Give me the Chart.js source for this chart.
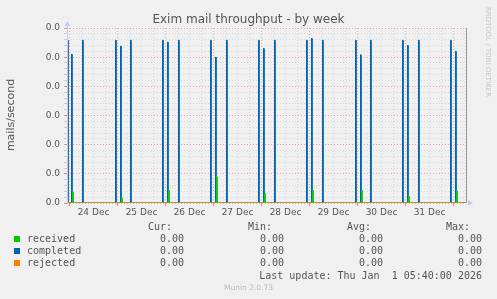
<!DOCTYPE html>
<html lang="en">
<head>
    <meta charset="UTF-8">
    <title>Exim mail throughput - by week</title>
    <script src="https://cdn.jsdelivr.net/npm/chart.js"></script>
    <style>
        body {
            margin: 0;
            padding: 0;
            background: #f0f0f0;
        }
        #wrap {
            position: relative;
            width: 497px;
            height: 299px;
            font-family: 'DejaVu Sans', sans-serif;
            color: #555;
        }
        canvas {
            position: absolute;
            left: 0;
            top: 0;
        }
        .txt {
            position: absolute;
            white-space: pre;
            line-height: 12px;
        }
        .mono {
            font-family: 'DejaVu Sans Mono', monospace;
            font-size: 10px;
        }
        .r { text-align: right; }
        .sw {
            position: absolute;
            width: 6px;
            height: 6px;
        }
    </style>
</head>
<body>
<div id="wrap">
    <canvas id="chart" width="497" height="299"></canvas>
    <div class="txt" style="left:0;width:497px;top:13px;text-align:center;font-size:12px;">Exim mail throughput - by week</div>
    <div class="txt" style="font-size:11px;width:80px;text-align:center;left:-29px;top:109px;transform:rotate(-90deg);">mails/second</div>
    <div class="txt" style="font-size:7px;color:#c8c8c8;width:100px;text-align:center;left:438px;top:46px;transform:rotate(90deg);">RRDTOOL / TOBI OETIKER</div>
    <div id="legend"></div>
    <div class="txt" style="left:0;width:497px;top:282px;text-align:center;font-size:7.5px;color:#bbb;">Munin 2.0.73</div>
</div>

<script>
    // hours counted from 24 Dec 00:00 (quarter hour offset keeps 1px lines crisp)
    const xMin = -1.25;
    const xMax = 198.25;
    const dayLabels = ['24 Dec', '25 Dec', '26 Dec', '27 Dec', '28 Dec', '29 Dec', '30 Dec', '31 Dec'];

    const completedTimes = [-1, 1, 6.5, 23, 25.5, 30.5, 46.5, 49, 54.5, 70.5, 73, 78.5, 94.5, 97, 102.5,
        118.5, 121, 126.5, 143, 145.5, 150.5, 166.5, 169, 174.5, 190.5, 193];
    const completedValues = [0.00279, 0.00255, 0.00279, 0.00279, 0.00269, 0.00279, 0.00279, 0.00276, 0.00279,
        0.00279, 0.00250, 0.00279, 0.00279, 0.00265, 0.00279, 0.00279, 0.00282, 0.00279,
        0.00279, 0.00254, 0.00279, 0.00279, 0.00270, 0.00279, 0.00279, 0.00260];

    const receivedTimes = [1.5, 26, 49.5, 73.5, 97.5, 121.5, 146, 169.5, 193.5];
    const receivedValues = [0.00019, 0.00009, 0.00022, 0.00045, 0.00017, 0.00022, 0.00022, 0.00012, 0.00021];

    const rejectedTimes = [xMin, xMax];
    const rejectedValues = [0, 0];

    const yMax = 0.003;

    const legendRows = [
        { name: 'received', color: '#00cc00', cur: '0.00', min: '0.00', avg: '0.00', max: '0.00' },
        { name: 'completed', color: '#0066b3', cur: '0.00', min: '0.00', avg: '0.00', max: '0.00' },
        { name: 'rejected', color: '#ff8000', cur: '0.00', min: '0.00', avg: '0.00', max: '0.00' }
    ];
    const lastUpdate = 'Last update: Thu Jan  1 05:40:00 2026';

    // each sample held for a short step, then back to zero
    function spikes(times, values, hold) {
        const pts = [{ x: xMin, y: 0 }];
        times.forEach((t, i) => {
            pts.push({ x: t, y: 0 });
            pts.push({ x: t, y: values[i] });
            pts.push({ x: t + hold, y: values[i] });
            pts.push({ x: t + hold, y: 0 });
        });
        pts.push({ x: xMax, y: 0 });
        return pts;
    }

    // legend block under the chart
    const legend = document.getElementById('legend');
    let html = '';
    const colsRight = [184, 284, 383, 482];
    const heads = ['Cur:', 'Min:', 'Avg:', 'Max:'];
    const headRight = [172, 272, 371, 470];
    heads.forEach((h, i) => {
        html += `<div class="txt mono r" style="right:${497 - headRight[i]}px;top:221px;">${h}</div>`;
    });
    legendRows.forEach((row, r) => {
        const top = 233 + r * 12;
        html += `<div class="sw" style="left:14px;top:${top + 3}px;background:${row.color};"></div>`;
        html += `<div class="txt mono" style="left:27px;top:${top}px;">${row.name}</div>`;
        [row.cur, row.min, row.avg, row.max].forEach((v, i) => {
            html += `<div class="txt mono r" style="right:${497 - colsRight[i]}px;top:${top}px;">${v}</div>`;
        });
    });
    html += `<div class="txt mono r" style="right:${497 - 482}px;top:270px;">${lastUpdate}</div>`;
    legend.innerHTML = html;

    const frame = {
        id: 'frame',
        afterDraw(chart) {
            const { ctx, chartArea: a } = chart;
            ctx.save();
            ctx.strokeStyle = '#9a9a9a';
            ctx.lineWidth = 1;
            ctx.beginPath();
            ctx.moveTo(Math.round(a.right) + 0.5, a.top);
            ctx.lineTo(Math.round(a.right) + 0.5, a.bottom);
            ctx.stroke();
            // rrdtool style axis arrows
            ctx.fillStyle = '#c8c8f8';
            ctx.strokeStyle = '#c8c8f8';
            ctx.beginPath();
            ctx.moveTo(a.left + 0.5, a.bottom);
            ctx.lineTo(a.left + 0.5, a.top - 3);
            ctx.stroke();
            ctx.beginPath();
            ctx.moveTo(a.left - 2.5, a.top - 2);
            ctx.lineTo(a.left + 3.5, a.top - 2);
            ctx.lineTo(a.left + 0.5, a.top - 7);
            ctx.fill();
            ctx.beginPath();
            ctx.moveTo(a.right + 2, a.bottom - 3);
            ctx.lineTo(a.right + 2, a.bottom + 3);
            ctx.lineTo(a.right + 7, a.bottom);
            ctx.fill();
            ctx.restore();
        }
    };

    const ctx = document.getElementById('chart').getContext('2d');
    new Chart(ctx, {
        type: 'line',
        data: {
            datasets: [
                {
                    label: 'rejected',
                    data: rejectedTimes.map((t, i) => ({ x: t, y: rejectedValues[i] })),
                    borderColor: '#ff8000',
                    borderWidth: 1,
                    order: 0
                },
                {
                    label: 'received',
                    data: spikes(receivedTimes, receivedValues, 0.25),
                    borderColor: '#00cc00',
                    backgroundColor: 'rgba(0,204,0,0.6)',
                    fill: 'origin',
                    borderWidth: 1,
                    order: 1
                },
                {
                    label: 'completed',
                    data: spikes(completedTimes, completedValues, 0.25),
                    borderColor: '#0066b3',
                    backgroundColor: 'rgba(0,102,179,0.7)',
                    fill: 'origin',
                    borderWidth: 1,
                    order: 2
                }
            ]
        },
        options: {
            responsive: false,
            animation: false,
            events: [],
            elements: { point: { radius: 0 }, line: { tension: 0 } },
            layout: { padding: { left: 30, right: 31, top: 28, bottom: 76 } },
            plugins: {
                legend: { display: false },
                title: { display: false },
                tooltip: { enabled: false }
            },
            scales: {
                x: {
                    type: 'linear',
                    min: xMin,
                    max: xMax,
                    afterFit: s => { s.height = 20; },
                    afterBuildTicks: s => {
                        const t = [];
                        for (let h = 0; h <= xMax; h += 6) t.push({ value: h });
                        s.ticks = t;
                    },
                    ticks: {
                        autoSkip: false,
                        maxRotation: 0,
                        padding: 1,
                        color: '#555',
                        font: { family: 'DejaVu Sans', size: 9 },
                        callback: v => (v % 24 === 12 ? dayLabels[(v - 12) / 24] : '')
                    },
                    grid: {
                        color: c => (c.tick && c.tick.value % 24 === 0 ? '#f0a8a8' : '#d8d8d8'),
                        tickColor: c => (c.tick && c.tick.value % 24 === 0 ? '#ee8888' : 'rgba(0,0,0,0)'),
                        tickLength: 3
                    },
                    border: { display: false, dash: [1, 2] }
                },
                y: {
                    min: 0,
                    max: yMax,
                    afterFit: s => { s.width = 37; },
                    afterBuildTicks: s => {
                        const t = [];
                        for (let i = 0; i <= 30; i++) t.push({ value: yMax * i / 30 });
                        s.ticks = t;
                    },
                    ticks: {
                        autoSkip: false,
                        padding: 4,
                        color: '#555',
                        font: { family: 'DejaVu Sans', size: 9 },
                        callback: (v, i) => (i % 5 === 0 ? v.toFixed(1) : '')
                    },
                    grid: {
                        color: c => (c.index % 5 === 0 ? '#f0a8a8' : '#d8d8d8'),
                        tickColor: c => (c.index % 5 === 0 ? '#ee8888' : '#cccccc'),
                        tickLength: 3
                    },
                    border: { display: false, dash: [1, 2] }
                }
            }
        },
        plugins: [frame]
    });
</script>
</body>
</html>
